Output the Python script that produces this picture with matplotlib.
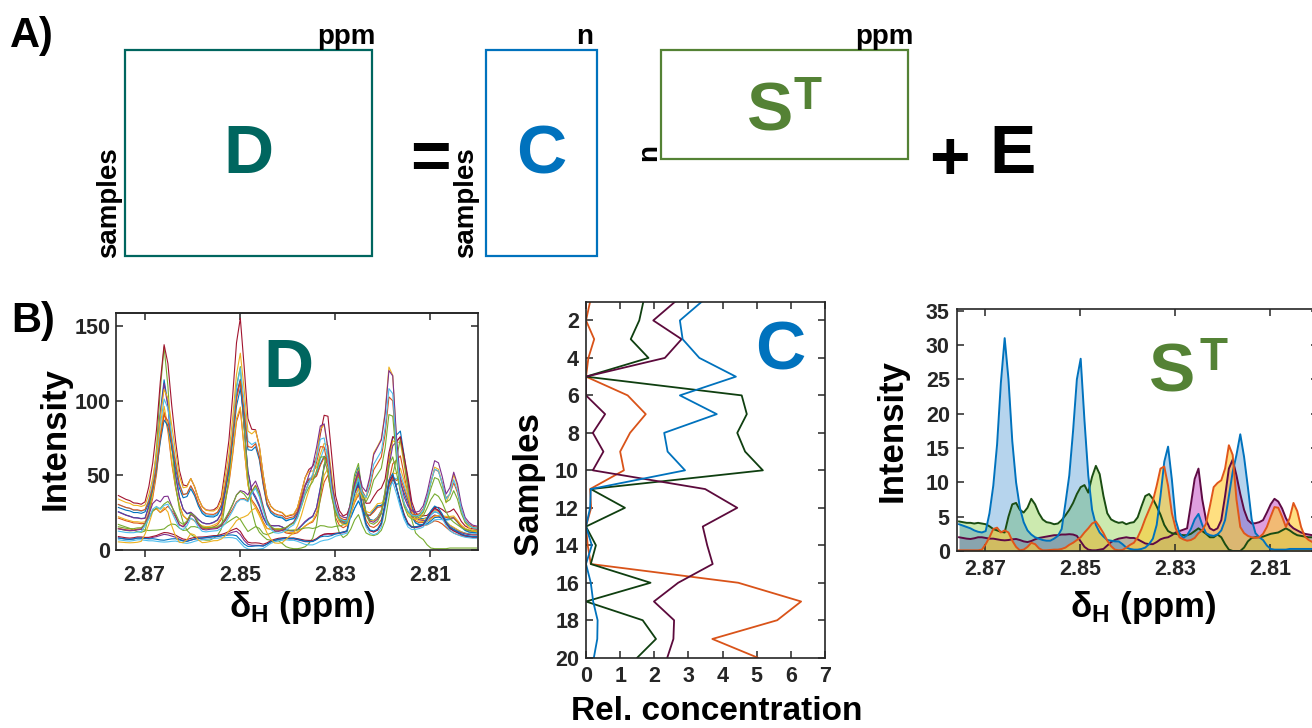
import numpy as np
import matplotlib
matplotlib.use("Agg")
import matplotlib.pyplot as plt
from matplotlib.patches import Rectangle

plt.rcParams['font.family'] = ['Liberation Sans', 'DejaVu Sans']
plt.rcParams['font.weight'] = 'bold'
plt.rcParams['mathtext.fontset'] = 'custom'
plt.rcParams['mathtext.rm'] = 'Liberation Sans:bold'
plt.rcParams['mathtext.it'] = 'Liberation Sans:bold'
plt.rcParams['mathtext.bf'] = 'Liberation Sans:bold'

# ---------------- data ----------------
# chemical shift axis (ppm), common to all spectra
ppm = np.round(2.8755 - 0.0008 * np.arange(95), 4)
samples = np.arange(1, 21)

# pure component spectra S^T (intensity on the ppm grid)
s_blue = [3.9, 3.7, 3.5, 3.3, 3.0, 2.8, 2.7, 2.9, 5.5, 9.5,
          15.5, 24.5, 31.0, 25.0, 16.0, 10.0, 6.3, 4.2, 3.0, 2.4,
          2.0, 1.8, 1.6, 1.5, 1.5, 1.8, 2.2, 3.2, 7.0, 11.0,
          17.5, 25.0, 28.0, 19.0, 11.0, 6.0, 3.8, 2.7, 2.1, 1.6,
          1.5, 1.4, 1.4, 1.0, 0.5, 0.3, 0.2, 0.2, 0.3, 0.5,
          1.0, 1.8, 3.8, 8.0, 13.0, 15.2, 10.4, 4.5, 2.6, 1.9,
          2.3, 3.2, 4.6, 5.4, 3.8, 2.6, 2.3, 2.2, 2.4, 3.0,
          4.5, 8.0, 11.5, 14.0, 17.0, 13.7, 9.3, 4.6, 2.6, 2.0,
          1.6, 0.8, 0.3, 0.2, 0.2, 0.2, 0.2, 0.3, 0.3, 0.3,
          0.3, 0.3, 0.3, 0.3, 0.3]
s_green = [4.3, 4.2, 4.1, 4.1, 4.0, 4.1, 4.0, 3.9, 3.6, 3.2,
           3.0, 2.8, 2.7, 5.0, 6.8, 7.0, 6.0, 5.6, 6.3, 7.6,
           6.8, 5.5, 4.6, 4.2, 4.1, 3.9, 4.0, 4.5, 5.2, 6.0,
           7.0, 8.3, 9.3, 9.6, 8.5, 10.8, 12.4, 11.2, 8.0, 5.5,
           4.6, 4.3, 4.1, 4.2, 3.9, 4.1, 4.2, 4.9, 6.5, 8.0,
           8.3, 7.6, 6.5, 5.3, 3.8, 2.9, 2.6, 2.5, 2.4, 2.3,
           2.3, 2.5, 2.9, 3.3, 2.9, 2.5, 2.0, 2.0, 2.4, 2.0,
           1.0, 0.2, 0.0, 0.0, 0.0, 0.5, 1.4, 1.9, 2.0, 2.0,
           2.1, 2.3, 2.5, 2.6, 2.7, 3.0, 3.3, 3.0, 2.6, 2.3,
           2.2, 2.1, 2.0, 2.0, 2.0]
s_maroon = [2.0, 1.9, 1.8, 1.75, 1.85, 2.0, 2.0, 1.9, 1.8, 1.8,
            1.7, 1.6, 1.55, 1.6, 1.7, 1.75, 1.6, 1.4, 1.3, 1.45,
            1.7, 1.9, 2.0, 2.1, 2.2, 2.3, 2.3, 2.4, 2.4, 2.45,
            2.4, 2.2, 1.4, 0.6, 0.2, 0.1, 0.1, 0.2, 0.3, 0.8,
            1.3, 1.6, 1.8, 1.9, 2.0, 1.9, 1.9, 1.7, 1.4, 1.1,
            1.0, 1.0, 1.3, 1.7, 1.9, 2.0, 2.3, 2.7, 2.9, 3.1,
            3.3, 6.8, 10.5, 12.0, 7.5, 4.5, 3.3, 3.0, 3.3, 4.5,
            8.0, 12.0, 13.3, 11.0, 8.3, 6.0, 4.5, 4.0, 4.05, 4.2,
            4.5, 5.6, 6.8, 7.6, 7.2, 6.2, 4.8, 3.8, 3.3, 3.0,
            2.7, 2.5, 2.4, 2.3, 2.3]
s_orange = [0.1, 0.1, 0.1, 0.1, 0.1, 0.1, 0.2, 1.0, 2.0, 3.2,
            3.4, 2.7, 3.0, 2.7, 1.5, 0.6, 0.1, 0.2, 0.6, 1.2,
            1.0, 0.4, 0.1, 0.1, 0.15, 0.2, 0.2, 0.3, 0.5, 0.9,
            1.2, 1.6, 2.0, 2.7, 3.3, 4.0, 4.3, 3.5, 2.6, 1.5,
            0.7, 0.2, 0.1, 0.15, 0.5, 0.9, 1.2, 2.0, 3.2, 4.7,
            6.0, 7.3, 9.5, 12.0, 12.3, 9.5, 5.5, 3.3, 2.0, 1.7,
            1.5, 1.6, 1.9, 2.6, 3.0, 4.0, 6.5, 9.3, 9.9, 10.3,
            12.0, 15.4, 14.0, 7.5, 3.5, 2.6, 2.2, 2.0, 1.9, 2.0,
            2.5, 3.5, 5.0, 6.4, 6.3, 5.0, 3.5, 4.8, 7.0, 5.8,
            3.5, 2.1, 1.6, 1.3, 1.2]

# relative concentrations C (samples 1..20)
c_blue = [3.39, 2.75, 2.83, 3.32, 4.39, 2.75, 3.83, 2.29, 2.39, 2.90,
          0.14, 0.12, 0.00, 0.17, 0.00, 0.14, 0.21, 0.34, 0.33, 0.23]
c_orange = [0.12, 0.00, 0.24, 0.07, 0.00, 1.22, 1.75, 1.29, 1.00, 1.11,
            0.12, 0.15, 0.00, 0.05, 0.14, 4.46, 6.30, 5.60, 3.70, 5.03]
c_green = [1.68, 1.56, 1.31, 1.83, 0.00, 4.56, 4.71, 4.43, 4.66, 5.18,
           0.14, 1.14, 0.00, 0.29, 0.14, 1.89, 0.00, 1.66, 2.05, 1.50]
c_maroon = [2.61, 1.97, 2.80, 2.31, 0.00, 0.00, 0.56, 0.20, 0.51, 0.20,
            3.49, 4.43, 3.42, 3.55, 3.71, 2.70, 1.99, 2.58, 2.56, 2.38]

ppm_ticks = [2.87, 2.85, 2.83, 2.81]
ppm_ticklabels = ['2.87', '2.85', '2.83', '2.81']

# D = C S^T
C = np.column_stack([c_blue, c_green, c_maroon, c_orange])
S = np.vstack([s_blue, s_green, s_maroon, s_orange])
D = C @ S

# ---------------- style ----------------
W, H = 1312, 728
fig = plt.figure(figsize=(W / 100, H / 100), dpi=100)

def box(l, t, r, b):
    return [l / W, 1 - b / H, (r - l) / W, (b - t) / H]

AX = '#262626'
TEAL = '#00665f'
CBLUE = '#0072bd'
SGREEN = '#548235'
matlab = ['#0072bd', '#d95319', '#edb120', '#7e2f8e', '#77ac30', '#4dbeee', '#a2142f']
col_blue, col_orange, col_green, col_maroon = '#0072bd', '#d95319', '#0f3f10', '#5c0a3c'

def style(ax):
    for sp in ax.spines.values():
        sp.set_color(AX)
        sp.set_linewidth(1.2)
    for lab in ax.get_xticklabels() + ax.get_yticklabels():
        lab.set_fontweight('bold')

TL = 15.5
LBL = 25

# ---------------- panel B: D ----------------
axD = fig.add_axes(box(116, 312.7, 478, 550))
for k in range(D.shape[0]):
    axD.plot(ppm, D[k], color=matlab[k % 7], lw=0.8)
axD.set_xlim(2.876, 2.800)
axD.set_ylim(0, 159)
axD.set_xticks(ppm_ticks, ppm_ticklabels)
axD.set_yticks([0, 50, 100, 150])
axD.tick_params(axis='x', direction='out', length=5, width=1.1, pad=6, top=False,
                labelsize=TL, colors=AX)
axD.tick_params(axis='y', direction='in', length=5, width=1.1, pad=4, left=True,
                right=True, labelsize=TL, colors=AX)
secD = axD.secondary_xaxis('top')
secD.set_xticks(ppm_ticks)
secD.tick_params(direction='in', length=5, width=1.1, labeltop=False, colors=AX)
secD.spines['top'].set_color(AX)
secD.spines['top'].set_linewidth(1.2)
style(axD)

# ---------------- panel B: C ----------------
axC = fig.add_axes(box(586, 301.7, 825, 657.7))
axC.plot(c_orange, samples, color=col_orange, lw=1.3)
axC.plot(c_green, samples, color=col_green, lw=1.3)
axC.plot(c_maroon, samples, color=col_maroon, lw=1.3)
axC.plot(c_blue, samples, color=col_blue, lw=1.3)
axC.set_xlim(0, 7)
axC.set_ylim(20, 1)
axC.set_xticks(range(0, 8))
axC.set_yticks(range(2, 21, 2))
axC.tick_params(axis='both', direction='in', length=5, width=1.1, top=True, right=True,
                labelsize=TL, colors=AX)
axC.tick_params(axis='x', pad=6)
axC.tick_params(axis='y', pad=5)
style(axC)

# ---------------- panel B: S^T ----------------
axS = fig.add_axes(box(956.7, 309.3, 1317.7, 551))
comps = [
    (s_maroon, '#5e0a44', '#c040c0', 0.50),
    (s_green, '#1a4d12', '#8fd14f', 0.45),
    (s_blue, '#0072bd', '#2f86cc', 0.35),
    (s_orange, '#e0561a', '#ffcc33', 0.62),
]
for sv, lc, fc, al in comps:
    axS.fill_between(ppm, 0, sv, color=fc, alpha=al, lw=0)
    axS.plot(ppm, sv, color=lc, lw=1.4)
axS.set_xlim(2.876, 2.800)
axS.set_ylim(0, 35.2)
axS.set_xticks(ppm_ticks, ppm_ticklabels)
axS.set_yticks(range(0, 36, 5))
axS.tick_params(axis='both', direction='in', length=5, width=1.1, top=True, right=True,
                labelsize=TL, colors=AX)
axS.tick_params(axis='x', pad=6)
axS.tick_params(axis='y', pad=5)
style(axS)

# ---------------- overlay (panel A + annotations) ----------------
ov = fig.add_axes([0, 0, 1, 1])
ov.set_xlim(0, W)
ov.set_ylim(H, 0)
ov.axis('off')
ov.set_zorder(10)

for (l, t, r, b), c in [((125, 50, 372.3, 256), TEAL),
                        ((486, 50, 596.7, 256), CBLUE),
                        ((660.7, 50, 907.7, 159.3), SGREEN)]:
    ov.add_patch(Rectangle((l, t), r - l, b - t, fill=False, ec=c, lw=1.6))

def T(x, y, s, size, color='black', ha='center', va='baseline', rot=0):
    ov.text(x, y, s, fontsize=size, color=color, ha=ha, va=va, rotation=rot,
            rotation_mode='anchor', fontweight='bold')

T(10, 46.7, 'A)', 30, ha='left')
T(11, 331.7, 'B)', 30, ha='left')
T(376, 43.5, 'ppm', 20, ha='right')
T(592.7, 43.5, 'n', 20, ha='right')
T(913.3, 43.5, 'ppm', 20, ha='right')
T(116.5, 258, 'samples', 20, ha='left', rot=90)
T(473.5, 258, 'samples', 20, ha='left', rot=90)
T(656, 160.7, 'n', 20, ha='left', rot=90)
T(248, 173.3, 'D', 50, color=TEAL)
T(430, 178.6, '=', 50)
T(541, 173, 'C', 50, color=CBLUE)
T(770, 130.5, 'S', 50, color=SGREEN)
T(807, 109.3, 'T', 33, color=SGREEN)
T(949, 179.5, '+', 50)
T(1012.5, 173.3, 'E', 50)

# panel B labels
T(288, 387.3, 'D', 50, color=TEAL)
T(780.5, 369, 'C', 50, color=CBLUE)
T(1172.5, 392, 'S', 50, color=SGREEN)
T(1213, 370, 'T', 33, color=SGREEN)

# axis labels
ov.text(55, 439, 'Intensity', fontsize=LBL, fontweight='bold', rotation=90,
        ha='center', va='center')
ov.text(891.7, 430, 'Intensity', fontsize=LBL, fontweight='bold', rotation=90,
        ha='center', va='center')
ov.text(528.3, 484, 'Samples', fontsize=LBL, fontweight='bold', rotation=90,
        ha='center', va='center')
T(717, 727, 'Rel. concentration', 24, va='bottom')
T(302, 617, 'δ$_\\mathrm{H}$ (ppm)', LBL)
T(1143, 617, 'δ$_\\mathrm{H}$ (ppm)', LBL)

fig.savefig('out.png', dpi=100)
